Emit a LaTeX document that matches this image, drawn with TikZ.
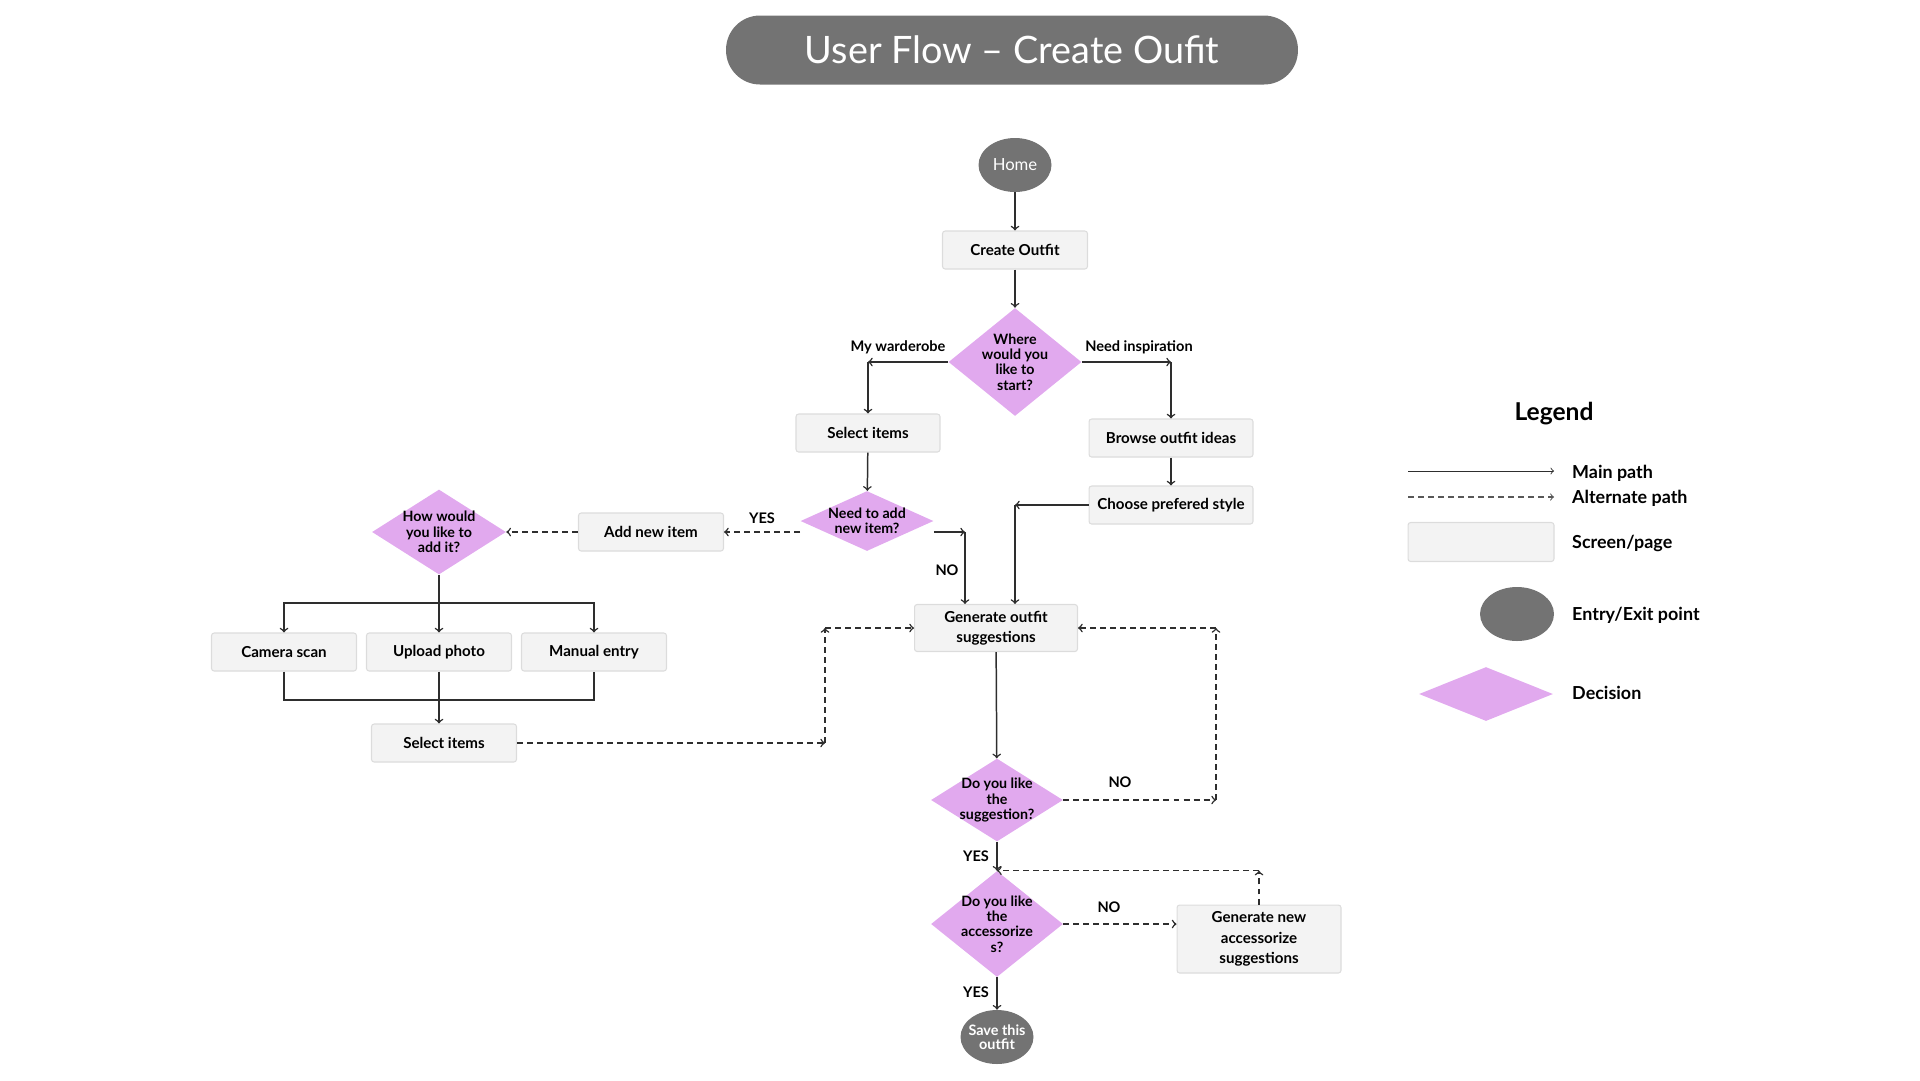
\documentclass[tikz,border=0pt]{standalone}
\usepackage{fontspec}
\setmainfont{Lato}
\usetikzlibrary{shapes.geometric,positioning}
\definecolor{pillgray}{HTML}{737373}
\definecolor{lilac}{HTML}{E1A9EE}
\definecolor{boxfill}{HTML}{F3F3F3}
\definecolor{boxline}{HTML}{DCDCDC}
\definecolor{ink}{HTML}{2E2E2E}
\tikzset{
  screen/.style={draw=boxline, fill=boxfill, rounded corners=1.5pt, line width=0.6pt,
    align=center, inner sep=0pt, minimum width=2.9cm, minimum height=0.76cm,
    font=\bfseries\fontsize{8.6}{11.5}\selectfont},
  decision/.style={diamond, fill=lilac, inner sep=0pt},
  dtext/.style={align=center, font=\bfseries\fontsize{8.1}{8.7}\selectfont},
  terminal/.style={ellipse, fill=pillgray, text=white, inner sep=0pt, align=center,
    minimum width=1.46cm, minimum height=1.08cm},
  main/.style={draw=ink, line width=0.85pt, ->},
  alt/.style={main, dash pattern=on 3.4pt off 2.3pt},
  tag/.style={font=\bfseries\fontsize{8.3}{9}\selectfont},
  legtext/.style={anchor=west, font=\bfseries\fontsize{10.2}{11}\selectfont},
}
\begin{document}
\begin{tikzpicture}[x=0.02cm,y=-0.02cm]
\useasboundingbox (0,0) rectangle (1920,1080);
\node[fill=pillgray, rounded corners=0.68cm, minimum width=11.44cm, minimum height=1.38cm,
  text=white, font=\fontsize{21.5}{24}\selectfont] (title) at (1012,50) {User Flow – Create Oufit};
\node[terminal, font=\fontsize{9.5}{10}\selectfont] (home) at (1015,165) {Home};
\node[screen] (create) at (1015,250) {Create Outfit};
\node[decision, minimum width=2.66cm, minimum height=2.16cm,
  label={[dtext]center:Where\\would you\\like to\\start?}] (where) at (1015,362) {};
\node[screen, minimum width=2.88cm] (sel1) at (868,433) {Select items};
\node[screen, minimum width=3.28cm] (browse) at (1171,438) {Browse outfit ideas};
\node[screen, minimum width=3.28cm] (choose) at (1171,505) {Choose prefered style};
\node[decision, minimum width=2.66cm, minimum height=1.2cm,
  label={[dtext]center:Need to add\\new item?}] (need) at (867,521) {};
\node[screen] (add) at (651,532) {Add new item};
\node[decision, minimum width=2.68cm, minimum height=1.7cm,
  label={[dtext]center:How would\\you like to\\add it?}] (how) at (439,532) {};
\node[screen] (cam) at (284,652) {Camera scan};
\node[screen] (upl) at (439,652) {Upload photo};
\node[screen] (man) at (594,652) {Manual entry};
\node[screen] (sel2) at (444,743) {Select items};
\node[screen, minimum width=3.26cm, minimum height=0.94cm] (gen) at (996,628) {Generate outfit\\suggestions};
\node[decision, minimum width=2.64cm, minimum height=1.66cm,
  label={[dtext]center:Do you like\\the\\suggestion?}] (like) at (997,800) {};
\node[decision, minimum width=2.64cm, minimum height=2.12cm,
  label={[dtext]center:Do you like\\the\\accessorize\\s?}] (acc) at (997,924) {};
\node[screen, minimum width=3.28cm, minimum height=1.36cm] (newacc) at (1259,939) {Generate new\\accessorize\\suggestions};
\node[terminal, label={[align=center, text=white, font=\bfseries\fontsize{8.2}{8}\selectfont]center:Save this\\outfit}] (save) at (997,1037) {};

\node[tag] (wardlbl) at (898,347) {My warderobe};
\node[tag] (insplbl) at (1139,347) {Need inspiration};
\node[tag] (yeslbl) at (762,518) {YES};
\node[tag] (nolbl) at (947,570) {NO};
\node[tag] (nolikelbl) at (1120,782) {NO};
\node[tag] (yeslikelbl) at (976,856) {YES};
\node[tag] (noacclbl) at (1109,907) {NO};
\node[tag] (yesacclbl) at (976,992) {YES};

\coordinate (fork) at (439,603);
\coordinate (merge) at (439,700);
\coordinate (nobend) at (965,532);
\coordinate (stylebend) at (1015,505);
\coordinate (sugbend) at (825,743);
\coordinate (retry) at (1216,800);

\draw[main] (home) -- (create);
\draw[main] (create) -- (where);
\draw[main] (where.west) -- (where.west -| sel1);
\draw[main] (where.west -| sel1) -- (sel1);
\draw[main] (where.east) -- (where.east -| browse);
\draw[main] (where.east -| browse) -- (browse);
\draw[main] (sel1) -- (need);
\draw[main] (browse) -- (choose);
\draw[alt] (need.west |- add) -- (add);
\draw[alt] (add) -- (how);
\draw[main, -] (how.south) -- (fork);
\draw[main] (fork) -| (cam);
\draw[main] (fork) -- (upl);
\draw[main] (fork) -| (man);
\draw[main, -] (cam.south) |- (merge) -| (man.south);
\draw[main] (upl.south) -- (upl.south |- sel2.north);
\draw[main] (need.east |- nobend) -- (nobend);
\draw[main] (nobend) -- (nobend |- gen.north);
\draw[main] (choose.west) -- (stylebend);
\draw[main] (stylebend) -- (stylebend |- gen.north);
\draw[alt] (sel2.east) -- (sugbend);
\draw[alt] (sugbend) -- (sugbend |- gen);
\draw[alt] (sugbend |- gen) -- (gen.west);
\draw[main] (gen) -- (like);
\draw[alt] (like.east) -- (retry);
\draw[alt] (retry) -- (retry |- gen);
\draw[alt] (retry |- gen) -- (gen.east);
\draw[main] (like) -- (acc);
\draw[alt] (acc.east) -- (acc.east -| newacc.west);
\draw[alt] (newacc.north) -- (acc.north -| newacc);
\draw[alt] (acc.north -| newacc) -- (acc.north);
\draw[main] (acc) -- (save);

% legend
\node[font=\bfseries\fontsize{14}{15}\selectfont] (legend) at (1554,414) {Legend};
\coordinate (mainA) at (1408,471);
\coordinate (mainB) at (1554,471);
\coordinate (altA) at (1408,497);
\coordinate (altB) at (1554,497);
\draw[main, line width=0.5pt] (mainA) -- (mainB);
\draw[alt, line width=0.6pt, draw=ink!80] (altA) -- (altB);
\node[screen, minimum width=2.92cm, minimum height=0.78cm] (lscreen) at (1481,542) {};
\node[terminal, minimum width=1.48cm] (lterm) at (1517,614) {};
\node[decision, minimum width=2.68cm, minimum height=1.08cm] (ldec) at (1486,694) {};
\node[legtext] (lmain) at (1566,473) {Main path};
\node[legtext] (lalt) at (1566,498) {Alternate path};
\node[legtext] (lscr) at (1566,543) {Screen/page};
\node[legtext] (lent) at (1566,615) {Entry/Exit point};
\node[legtext] (ldecision) at (1566,693) {Decision};
\end{tikzpicture}
\end{document}
